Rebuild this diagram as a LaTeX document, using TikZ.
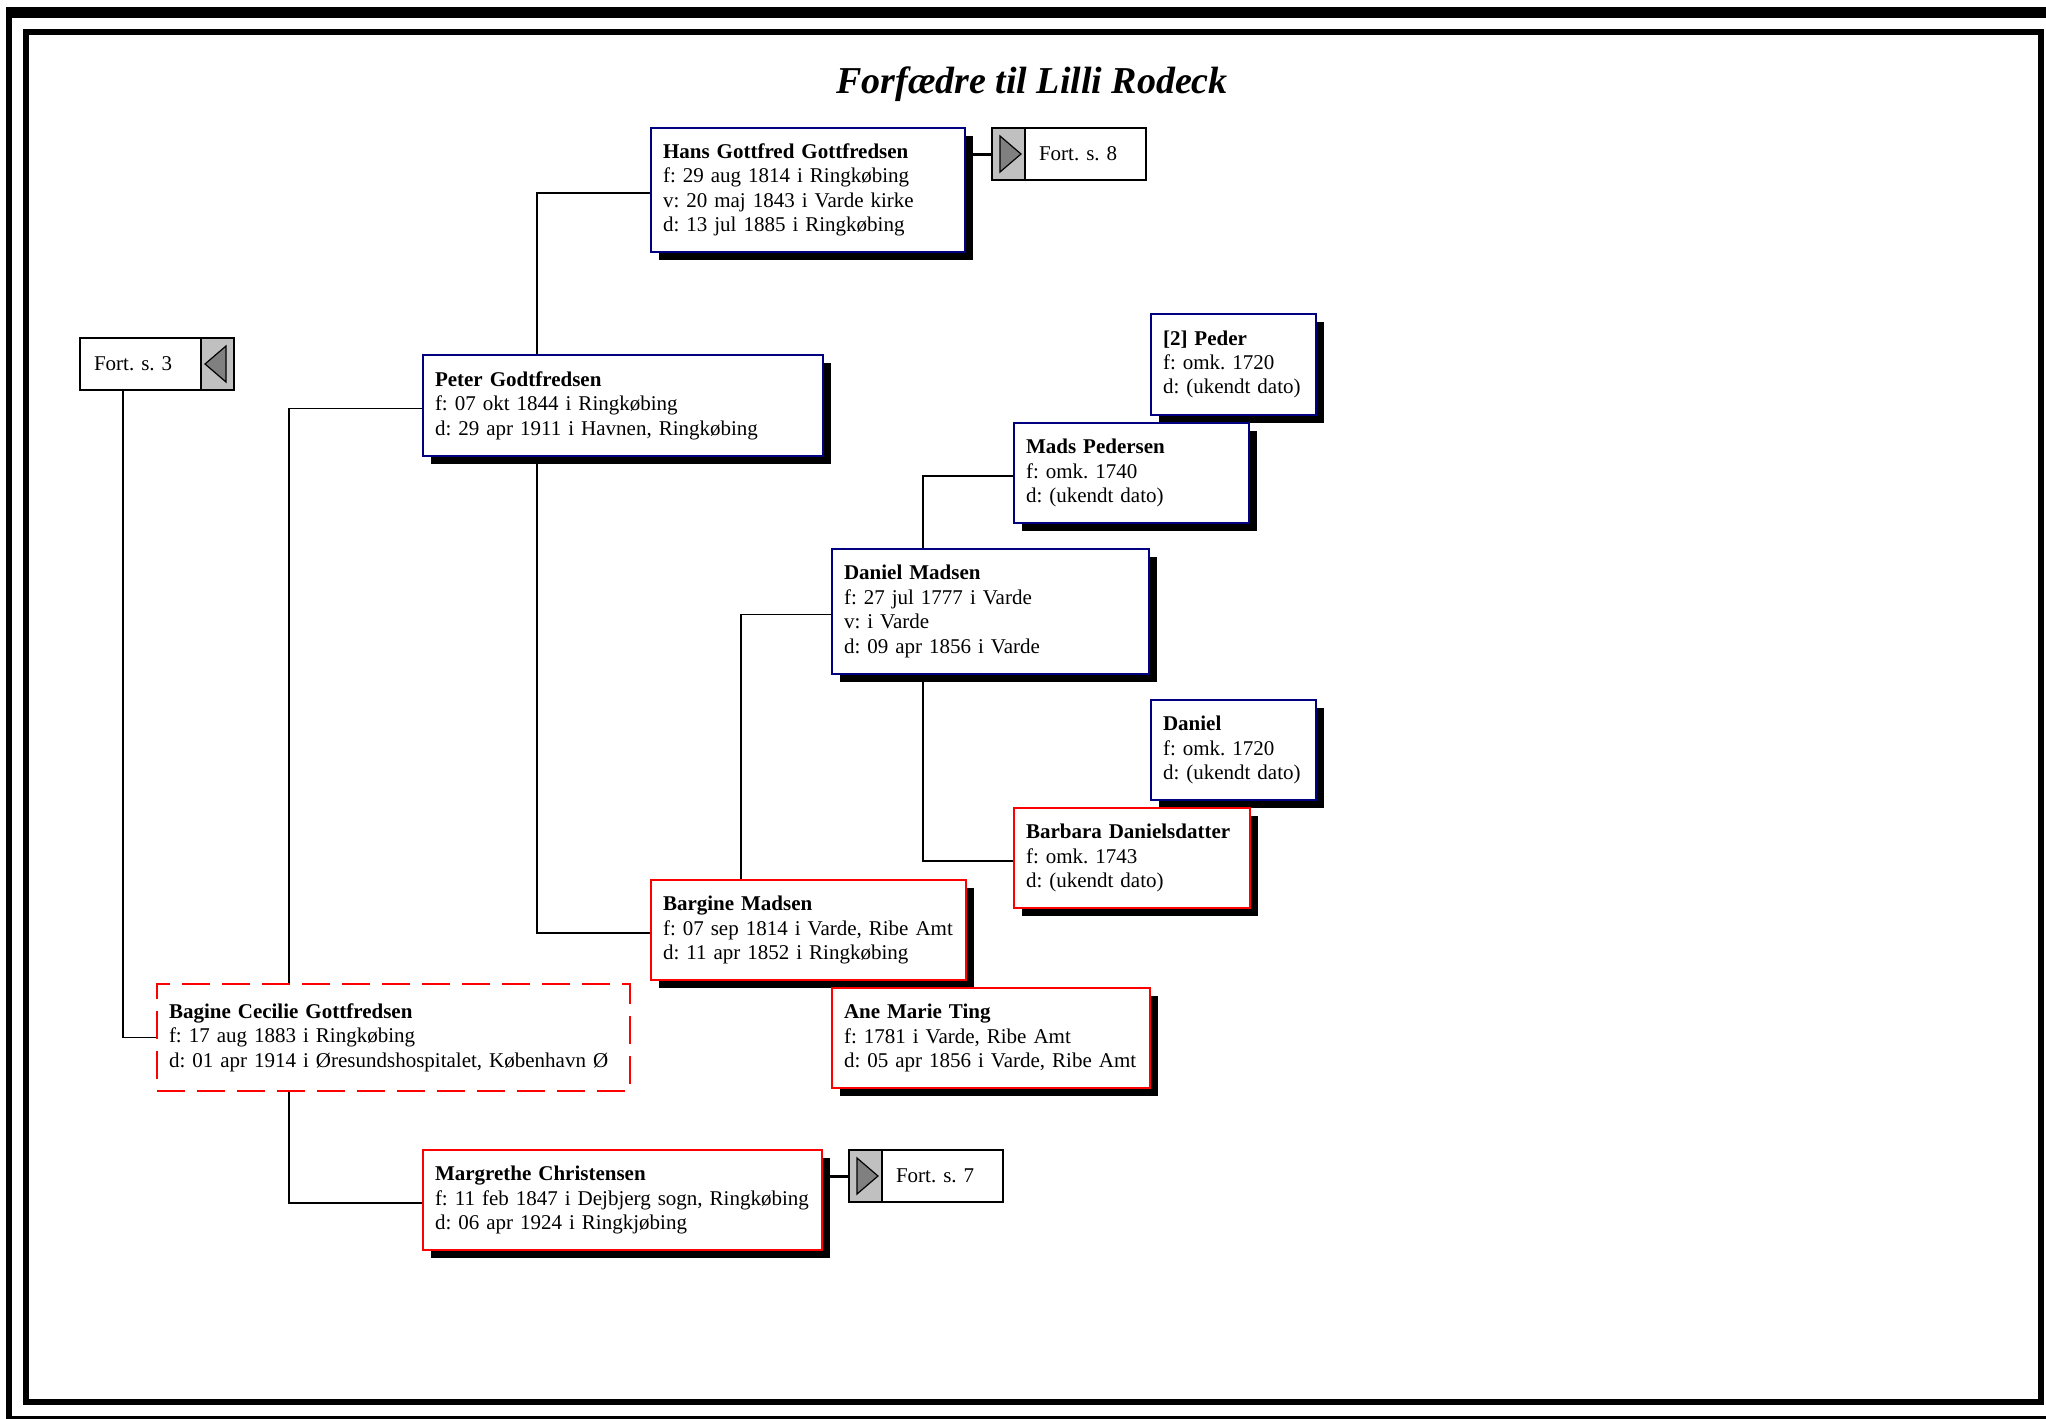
\documentclass[tikz,border=0pt]{standalone}
\usepackage{fontspec}
\setmainfont{Liberation Serif}
\frenchspacing
\usetikzlibrary{shadows}
\definecolor{navyline}{RGB}{0,0,128}
\definecolor{redline}{RGB}{255,0,0}
\definecolor{fortgray}{RGB}{192,192,192}
\definecolor{arrowgray}{RGB}{128,128,128}
\tikzset{
  card/.style={draw, fill=white, line width=1pt, anchor=north west, align=left,
    inner xsep=6pt, inner ysep=0pt, font=\fontsize{10.5}{12.2}\selectfont},
  boxshadow/.style={drop shadow={shadow xshift=4pt, shadow yshift=-4pt, fill=black, opacity=1}},
  male/.style={card, boxshadow, draw=navyline},
  female/.style={card, boxshadow, draw=redline},
  proband/.style={card, draw=redline, dash pattern=on 14pt off 6pt},
  link/.style={line width=0.8pt},
  fortlink/.style={line width=1.5pt},
  fort/.style={draw, fill=white, line width=1pt, anchor=north west, minimum width=77pt,
    minimum height=26pt, text width=63pt, inner xsep=7pt, align=left,
    font=\fontsize{10.5}{12.2}\selectfont},
  fortright/.style={fort, execute at begin node={\hspace*{16.5pt}},
    path picture={
      \fill[fortgray] (path picture bounding box.north west) rectangle ([xshift=16.5pt]path picture bounding box.south west);
      \draw[line width=0.6pt] ([xshift=16.5pt]path picture bounding box.north west) -- ([xshift=16.5pt]path picture bounding box.south west);
      \draw[fill=arrowgray, line width=0.6pt] ([shift={(4pt,-4pt)}]path picture bounding box.north west) -- ([shift={(4pt,4pt)}]path picture bounding box.south west) -- ([xshift=14.5pt]path picture bounding box.west) -- cycle;}},
  fortleft/.style={fort,
    path picture={
      \fill[fortgray] (path picture bounding box.north east) rectangle ([xshift=-16.5pt]path picture bounding box.south east);
      \draw[line width=0.6pt] ([xshift=-16.5pt]path picture bounding box.north east) -- ([xshift=-16.5pt]path picture bounding box.south east);
      \draw[fill=arrowgray, line width=0.6pt] ([shift={(-4pt,-4pt)}]path picture bounding box.north east) -- ([shift={(-4pt,4pt)}]path picture bounding box.south east) -- ([xshift=-14.5pt]path picture bounding box.east) -- cycle;}}
}
\begin{document}
\begin{tikzpicture}[x=0.5pt,y=-0.5pt]
\fill[white] (0,0) rectangle (2046,1419);
\useasboundingbox (0,0) rectangle (2046,1419);
\draw[line width=5.5pt] (6,12.5) -- (2046,12.5);
\draw[line width=3pt] (9,7) -- (9,1419);
\draw[line width=3pt] (6,1419) -- (2046,1419);
\draw[line width=3pt] (26,32) rectangle (2040.5,1402);
\node[font=\fontsize{19}{23}\selectfont\bfseries\itshape, anchor=base] (title) at (1032,93) {Forfædre til Lilli Rodeck};

\node[male, text width=145pt, minimum height=62pt] (hans) at (650,127) {\textbf{Hans Gottfred Gottfredsen}\\f: 29 aug 1814 i Ringkøbing\\v: 20 maj 1843 i Varde kirke\\d: 13 jul 1885 i Ringkøbing};
\node[fortright] (fort8) at (991,127) {Fort. s. 8};
\node[fortleft] (fort3) at (79,337) {Fort. s. 3};
\node[male, text width=188pt, minimum height=50.5pt] (peter) at (422,354) {\textbf{Peter Godtfredsen}\\f: 07 okt 1844 i Ringkøbing\\d: 29 apr 1911 i Havnen, Ringkøbing};
\node[male, text width=70.5pt, minimum height=50.5pt] (peder) at (1150,313) {\textbf{[2] Peder}\\f: omk. 1720\\d: (ukendt dato)};
\node[male, text width=105.5pt, minimum height=50pt] (mads) at (1013,422) {\textbf{Mads Pedersen}\\f: omk. 1740\\d: (ukendt dato)};
\node[male, text width=146.5pt, minimum height=62.5pt] (danmad) at (831,548) {\textbf{Daniel Madsen}\\f: 27 jul 1777 i Varde\\v: i Varde\\d: 09 apr 1856 i Varde};
\node[male, text width=70.5pt, minimum height=50pt] (daniel) at (1150,699) {\textbf{Daniel}\\f: omk. 1720\\d: (ukendt dato)};
\node[female, text width=106pt, minimum height=50pt] (barbara) at (1013,807) {\textbf{Barbara Danielsdatter}\\f: omk. 1743\\d: (ukendt dato)};
\node[female, text width=145.5pt, minimum height=50pt] (bargine) at (650,879) {\textbf{Bargine Madsen}\\f: 07 sep 1814 i Varde, Ribe Amt\\d: 11 apr 1852 i Ringkøbing};
\node[female, text width=147pt, minimum height=50pt] (ane) at (831,987) {\textbf{Ane Marie Ting}\\f: 1781 i Varde, Ribe Amt\\d: 05 apr 1856 i Varde, Ribe Amt};
\node[proband, text width=224.5pt, minimum height=53.5pt] (bagine) at (156,983) {\textbf{Bagine Cecilie Gottfredsen}\\f: 17 aug 1883 i Ringkøbing\\d: 01 apr 1914 i Øresundshospitalet, København Ø};
\node[female, text width=187.5pt, minimum height=50pt] (margrethe) at (422,1149) {\textbf{Margrethe Christensen}\\f: 11 feb 1847 i Dejbjerg sogn, Ringkøbing\\d: 06 apr 1924 i Ringkjøbing};
\node[fortright] (fort7) at (848,1149) {Fort. s. 7};

\draw[link] ([xshift=57.5pt]peter.north west) |- ([yshift=-1.5pt]hans.west);
\draw[link] ([xshift=57.5pt]peter.south west) |- ([yshift=-1.5pt]bargine.west);
\draw[link] ([xshift=66.5pt]bagine.north west) |- ([yshift=-1.5pt]peter.west);
\draw[link] ([xshift=66.5pt]bagine.south west) |- ([yshift=-1.5pt]margrethe.west);
\draw[link] ([xshift=22pt]fort3.south west) |- (bagine.west);
\draw[link] ([xshift=45.5pt]bargine.north west) |- ([yshift=-1.5pt]danmad.west);
\draw[link] ([xshift=46pt]danmad.north west) |- ([yshift=-1.5pt]mads.west);
\draw[link] ([xshift=46pt]danmad.south west) |- ([yshift=-1.5pt]barbara.west);
\draw[fortlink] (fort8.west) -- (fort8.west -| hans.east);
\draw[fortlink] (fort7.west) -- (fort7.west -| margrethe.east);
\end{tikzpicture}
\end{document}
